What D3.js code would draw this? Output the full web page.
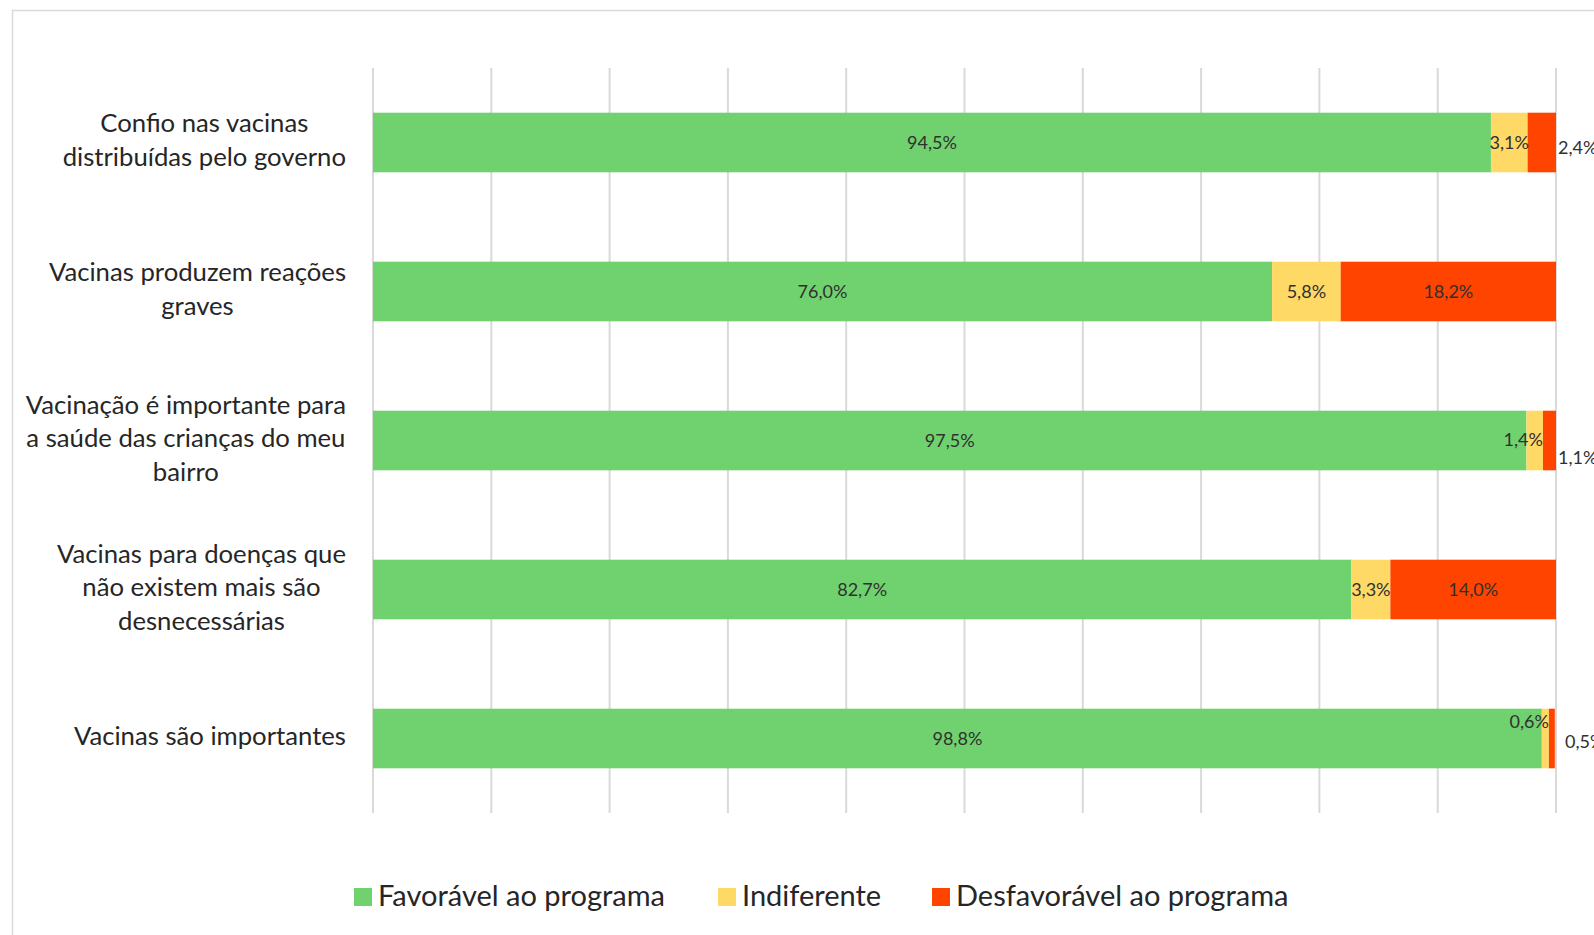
<!DOCTYPE html>
<html lang="pt">
    <script src="https://d3js.org/d3.v7.min.js"></script>
    <head>
        <title>Vacinas</title>
    </head>
    <style>
        *{
            margin: 0px;
            padding: 0px;
        }
        body{
            background-color: white;
        }
    </style>
    <body>
        <div class="chart"></div>
        <script>
            var width=1594;
            var height=935;

            // dados
            var categorias=[
                ["Confio nas vacinas","distribuídas pelo governo"],
                ["Vacinas produzem reações","graves"],
                ["Vacinação é importante para","a saúde das crianças do meu","bairro"],
                ["Vacinas para doenças que","não existem mais são","desnecessárias"],
                ["Vacinas são importantes"]
            ];
            var favoravel=[94.5,76.0,97.5,82.7,98.8];
            var indiferente=[3.1,5.8,1.4,3.3,0.6];
            var desfavoravel=[2.4,18.2,1.1,14.0,0.5];
            var series=["Favorável ao programa","Indiferente","Desfavorável ao programa"];
            var cores=["#70d16f","#ffd966","#ff4400"];
            var xTicks=[0,10,20,30,40,50,60,70,80,90,100];

            var svg=d3.select('.chart')
            .append('svg')
            .attr('width',width)
            .attr('height',height);

            // moldura
            svg.append('rect')
            .attr('x',12.5).attr('y',10.5)
            .attr('width',width+20).attr('height',height+20)
            .attr('fill','none')
            .attr('stroke','#d9d9d9')
            .attr('stroke-width',1.5);

            var xScale=d3.scaleLinear().domain([0,100]).range([373,1556]);
            var yScale=d3.scaleBand()
            .domain(d3.range(categorias.length))
            .range([68,813])
            .paddingInner(0.6)
            .paddingOuter(0.3);

            // grade
            svg.append('g')
            .selectAll('line')
            .data(xTicks)
            .enter()
            .append('line')
            .attr('x1',d=>xScale(d)).attr('x2',d=>xScale(d))
            .attr('y1',68).attr('y2',813)
            .attr('stroke','#d9d9d9')
            .attr('stroke-width',2);

            // tabela empilhada
            var linhas=categorias.map((c,i)=>({i:i,v:[favoravel[i],indiferente[i],desfavoravel[i]]}));
            var stack=[];
            linhas.forEach(l=>{
                var acc=0;
                l.v.forEach((v,s)=>{
                    stack.push({i:l.i,s:s,x0:acc,x1:acc+v,v:v});
                    acc+=v;
                });
            });

            svg.append('g')
            .selectAll('rect')
            .data(stack)
            .enter()
            .append('rect')
            .attr('x',d=>xScale(d.x0))
            .attr('y',d=>yScale(d.i))
            .attr('width',d=>xScale(d.x1)-xScale(d.x0))
            .attr('height',yScale.bandwidth())
            .attr('fill',d=>cores[d.s]);

            // rótulos dos valores
            function fmt(v){
                return v.toFixed(1).replace('.',',')+'%';
            }
            var fonte="Lato, 'Open Sans', sans-serif";
            svg.append('g')
            .selectAll('text')
            .data(stack)
            .enter()
            .append('text')
            .attr('font-family',fonte)
            .attr('font-size',18)
            .attr('fill','#303030')
            .attr('dominant-baseline','middle')
            .each(function(d){
                var t=d3.select(this);
                var cy=yScale(d.i)+yScale.bandwidth()/2+1.5;
                var largura=xScale(d.x1)-xScale(d.x0);
                if(largura>30){
                    t.attr('x',(xScale(d.x0)+xScale(d.x1))/2).attr('y',cy).attr('text-anchor','middle');
                }else if(d.s==2){
                    var dy= d.v>2 ? 5 : 17;
                    if(d.v<1) dy=3;
                    t.attr('x',xScale(100)+2+(d.v<1?7:0)).attr('y',cy+dy).attr('text-anchor','start');
                }else{
                    var dy2= d.v<1 ? -17 : -1;
                    t.attr('x',xScale(d.x1)).attr('y',cy+dy2).attr('text-anchor','end');
                }
                t.text(fmt(d.v));
            });

            // rótulos das categorias
            var catG=svg.append('g');
            categorias.forEach((c,i)=>{
                var cy=yScale(i)+yScale.bandwidth()/2;
                var lh=33.5;
                var g=catG.append('g');
                var txts=c.map((l,k)=>g.append('text')
                    .attr('font-family',fonte)
                    .attr('font-size',25.7)
                    .attr('fill','#262626')
                    .attr('text-anchor','middle')
                    .attr('dominant-baseline','middle')
                    .attr('y',cy+(k-(c.length-1)/2)*lh)
                    .text(l));
                var maxW=d3.max(txts,t=>t.node().getComputedTextLength());
                txts.forEach(t=>t.attr('x',346-maxW/2));
            });

            // legenda
            var legX=[354,718,932];
            var leg=svg.append('g')
            .selectAll('g')
            .data(series)
            .enter()
            .append('g')
            .attr('transform',(d,i)=>'translate('+legX[i]+',897)');
            leg.append('rect')
            .attr('x',0).attr('y',-9)
            .attr('width',18).attr('height',18)
            .attr('fill',(d,i)=>cores[i]);
            leg.append('text')
            .attr('x',24).attr('y',1.5)
            .attr('font-family',fonte)
            .attr('font-size',29)
            .attr('fill','#262626')
            .attr('dominant-baseline','middle')
            .text(d=>d);
        </script>
    </body>
</html>
